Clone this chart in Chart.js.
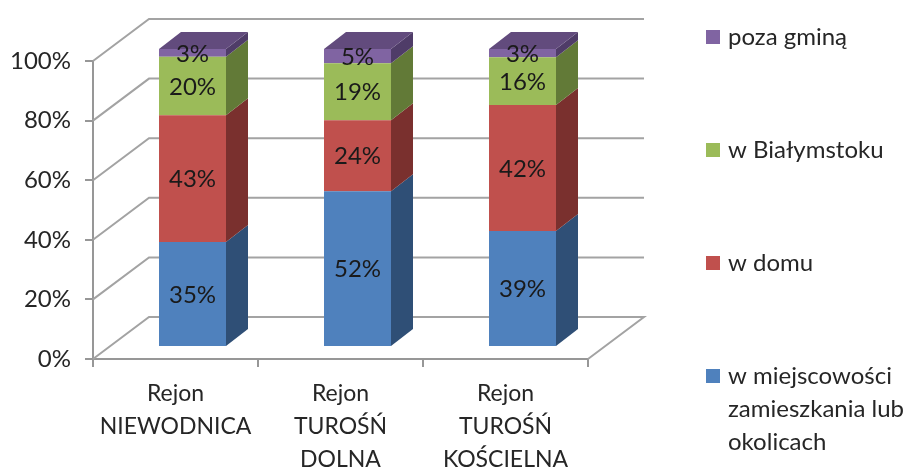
<!DOCTYPE html>
<html lang="pl">
<head>
<meta charset="utf-8">
<style>html,body{margin:0;padding:0;background:#fff}canvas{display:block}</style>
<script src="https://cdn.jsdelivr.net/npm/chart.js@4"></script>
</head>
<body>
<canvas id="c" width="913" height="469"></canvas>
<script>
const categories = [["Rejon","NIEWODNICA"],["Rejon","TUROŚŃ","DOLNA"],["Rejon","TUROŚŃ","KOŚCIELNA"]];
const seriesNames = ["w miejscowości zamieszkania lub okolicach","w domu","w Białymstoku","poza gminą"];
const legendLines = [["w miejscowości","zamieszkania lub","okolicach"],["w domu"],["w Białymstoku"],["poza gminą"]];
const wMiejscowosci = [35.2,52.3,38.9];
const wDomu = [42.6,23.8,42.3];
const wBialymstoku = [19.6,19.1,16.0];
const pozaGmina = [2.6,4.8,2.8];
const seriesValues = [wMiejscowosci,wDomu,wBialymstoku,pozaGmina];
const frontColors = ["#4f81bd","#c0504d","#9bbb59","#8064a2"];
const sideColors = ["#2f4f76","#7a302e","#627a37","#4f3c68"];
const topColor = "#624b7d";
const legendCenters = [376,263,150,37];

const FONT = "Lato, Carlito, sans-serif";
const SIZE = 24;
const XSIZE = 23;
const TEXT = "#262626";
const GRID = "#a3a3a3";
const AXIS = "#979797";
const WALL = {dx:56, dy:-42};
const BAR = {ox:17, oy:-12, dx:22, dy:-17};

const threeD = {
  id:"threeD",
  beforeDatasetsDraw(chart){
    const {ctx,scales:{y},chartArea:a}=chart;
    ctx.save();
    ctx.lineWidth=2;
    ctx.strokeStyle=GRID;
    y.ticks.forEach(t=>{
      const py=y.getPixelForValue(t.value);
      ctx.beginPath();
      ctx.moveTo(a.left,py);
      ctx.lineTo(a.left+WALL.dx,py+WALL.dy);
      ctx.lineTo(a.right+WALL.dx,py+WALL.dy);
      if(t.value===0) ctx.lineTo(a.right,py);
      ctx.stroke();
    });
    ctx.restore();
    ctx.save();
    ctx.translate(BAR.ox,BAR.oy);
    chart.data.datasets.forEach((ds,i)=>{
      chart.getDatasetMeta(i).data.forEach(b=>{
        const r=b.x+b.width/2,l=b.x-b.width/2;
        ctx.fillStyle=sideColors[i];
        ctx.beginPath();
        ctx.moveTo(r,b.y);
        ctx.lineTo(r+BAR.dx,b.y+BAR.dy);
        ctx.lineTo(r+BAR.dx,b.base+BAR.dy);
        ctx.lineTo(r,b.base);
        ctx.closePath();
        ctx.fill();
        if(i===chart.data.datasets.length-1){
          ctx.fillStyle=topColor;
          ctx.beginPath();
          ctx.moveTo(l,b.y);
          ctx.lineTo(l+BAR.dx,b.y+BAR.dy);
          ctx.lineTo(r+BAR.dx,b.y+BAR.dy);
          ctx.lineTo(r,b.y);
          ctx.closePath();
          ctx.fill();
        }
      });
    });
  },
  afterDatasetsDraw(chart){
    const {ctx}=chart;
    ctx.restore();
    ctx.save();
    ctx.font=SIZE+"px "+FONT;
    ctx.fillStyle="#1a1a1a";
    ctx.textAlign="center";
    ctx.textBaseline="middle";
    chart.data.datasets.forEach((ds,i)=>{
      chart.getDatasetMeta(i).data.forEach((b,j)=>{
        ctx.fillText(Math.round(ds.data[j])+"%",b.x+BAR.ox,(b.y+b.base)/2+BAR.oy+1);
      });
    });
    ctx.textAlign="left";
    legendLines.forEach((lines,i)=>{
      const c=legendCenters[i];
      ctx.fillStyle=frontColors[i];
      ctx.fillRect(706,c-7,14,14);
      ctx.fillStyle=TEXT;
      lines.forEach((ln,k)=>ctx.fillText(ln,728,c+k*33));
    });
    ctx.restore();
  }
};

new Chart(document.getElementById("c"),{
  type:"bar",
  data:{
    labels:categories,
    datasets:seriesNames.map((n,i)=>({
      label:n,
      data:seriesValues[i],
      backgroundColor:frontColors[i],
      borderWidth:0,
      clip:false,
      barPercentage:67/165,
      categoryPercentage:1
    }))
  },
  options:{
    responsive:false,
    animation:false,
    layout:{padding:{left:0,right:325,top:61,bottom:0}},
    plugins:{legend:{display:false},tooltip:{enabled:false}},
    scales:{
      x:{
        stacked:true,
        afterFit(s){s.height=110;},
        border:{display:true,color:AXIS,width:2},
        grid:{drawOnChartArea:false,drawTicks:true,tickLength:8,color:AXIS,lineWidth:2},
        ticks:{autoSkip:false,maxRotation:0,minRotation:0,padding:10,color:TEXT,
               font:{family:FONT,size:XSIZE,lineHeight:33/XSIZE}}
      },
      y:{
        stacked:true,min:0,max:100,
        afterFit(s){s.width=93;},
        border:{display:true,color:AXIS,width:2},
        grid:{drawOnChartArea:false,drawTicks:true,tickLength:8,color:AXIS,lineWidth:2},
        ticks:{stepSize:10,padding:14,color:TEXT,callback:v=>v+"%",
               font:{family:FONT,size:SIZE}}
      }
    }
  },
  plugins:[threeD]
});
</script>
</body>
</html>
